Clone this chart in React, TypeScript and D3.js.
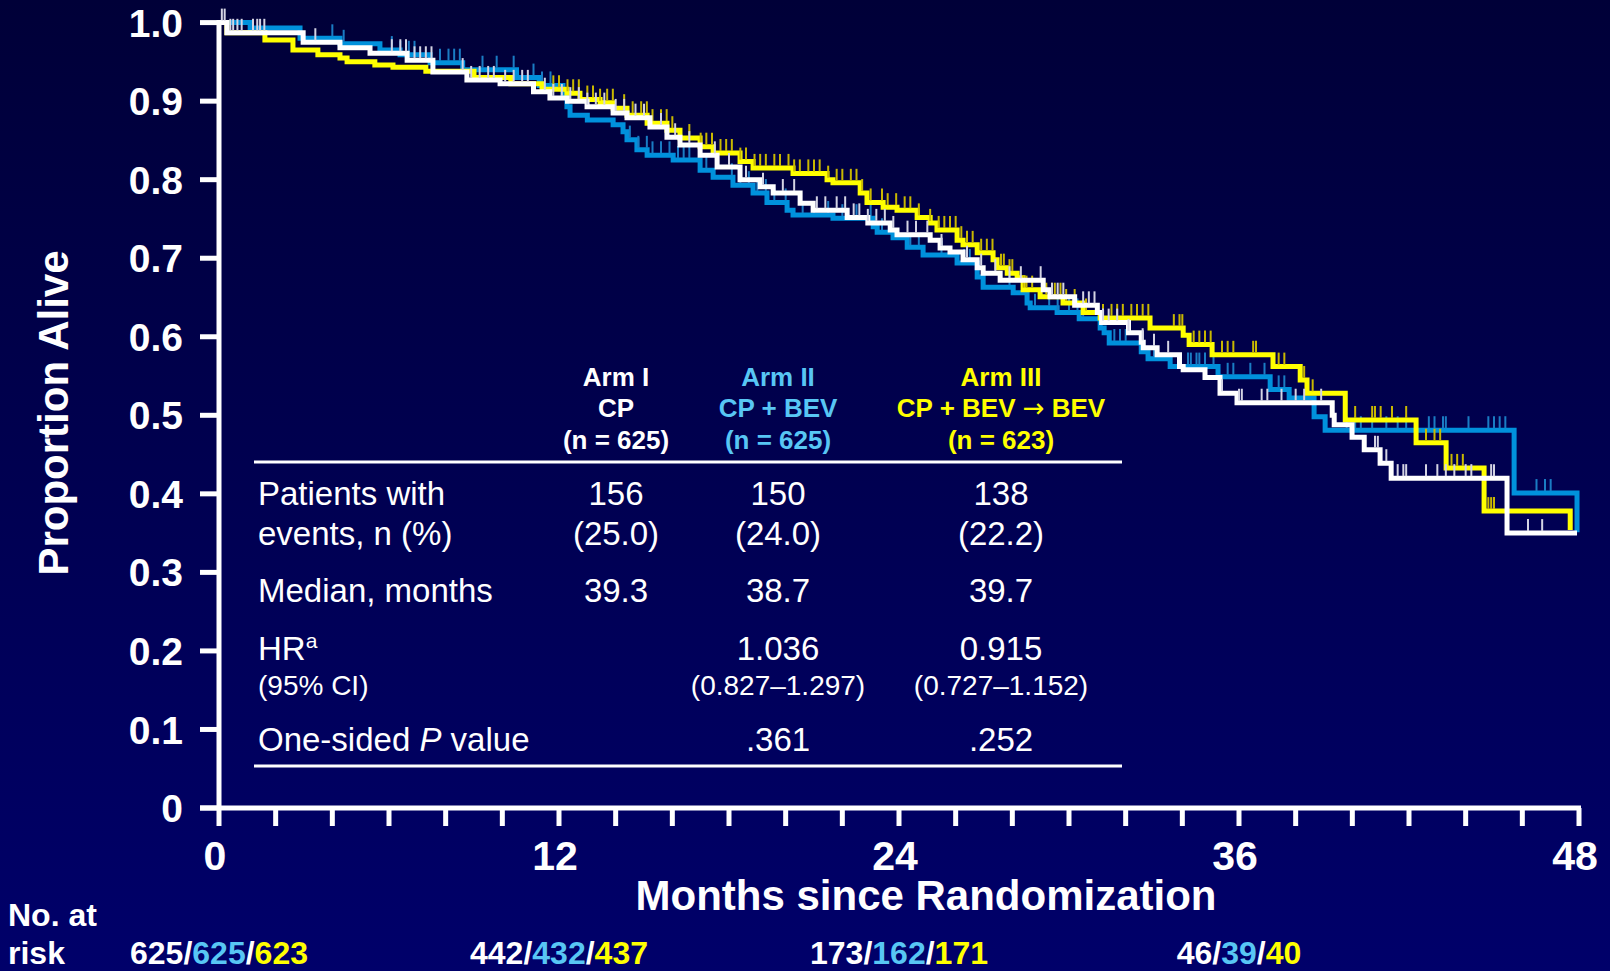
import React, { useEffect } from 'react';
import * as d3 from 'd3';

// ---- data ----
const monthTicks = [0, 12, 24, 36, 48];
const propTicks = [0, 0.1, 0.2, 0.3, 0.4, 0.5, 0.6, 0.7, 0.8, 0.9, 1.0];
const propLabels = ['0', '0.1', '0.2', '0.3', '0.4', '0.5', '0.6', '0.7', '0.8', '0.9', '1.0'];

// [month, proportion alive] at each step
const armI: [number, number][] = [
  [0, 1], [0.28, 0.987], [2.97, 0.975], [4.27, 0.968], [5.33, 0.961], [6.64, 0.952], [7.55, 0.937],
  [8.75, 0.927], [9.92, 0.922], [11.1, 0.912], [11.68, 0.904], [12.3, 0.9], [12.99, 0.893],
  [13.91, 0.885], [14.4, 0.879], [15.21, 0.867], [15.81, 0.854], [16.27, 0.844], [16.98, 0.831],
  [17.58, 0.816], [18.39, 0.8], [19.1, 0.791], [19.56, 0.783], [20.51, 0.77], [20.97, 0.761],
  [22.17, 0.752], [22.9, 0.745], [23.69, 0.736], [23.93, 0.73], [25.1, 0.723], [25.45, 0.713],
  [25.8, 0.708], [26.26, 0.698], [26.76, 0.688], [26.97, 0.681], [27.57, 0.672], [29.09, 0.66],
  [29.33, 0.651], [30.2, 0.64], [31.0, 0.631], [31.15, 0.618], [32.1, 0.605], [32.55, 0.593],
  [32.62, 0.586], [33.11, 0.577], [33.9, 0.562], [34.03, 0.558], [34.8, 0.548], [35.33, 0.528],
  [35.93, 0.516], [39.29, 0.5], [39.36, 0.488], [39.99, 0.472], [40.42, 0.456], [40.98, 0.439],
  [41.37, 0.42], [45.46, 0.35], [47.93, 0.35],
];
const armII: [number, number][] = [
  [0, 1], [1.1, 0.993], [2.86, 0.98], [4.27, 0.973], [5.68, 0.965], [6.39, 0.959], [7.45, 0.949],
  [8.6, 0.94], [10.5, 0.93], [11.3, 0.92], [12.14, 0.905], [12.28, 0.893], [12.39, 0.882],
  [13.0, 0.876], [13.91, 0.87], [14.26, 0.861], [14.4, 0.851], [14.75, 0.838], [15.11, 0.831],
  [16.03, 0.825], [16.98, 0.812], [17.44, 0.803], [18.14, 0.793], [18.85, 0.783], [19.34, 0.771],
  [20.05, 0.761], [20.26, 0.755], [21.67, 0.751], [23.09, 0.74], [23.23, 0.733], [23.79, 0.726],
  [24.29, 0.714], [24.85, 0.704], [26.05, 0.694], [26.76, 0.676], [26.97, 0.663], [28.03, 0.656],
  [28.52, 0.643], [28.63, 0.637], [29.58, 0.631], [30.36, 0.623], [31.1, 0.611], [31.24, 0.605],
  [31.42, 0.592], [32.55, 0.581], [32.79, 0.572], [33.57, 0.562], [35.26, 0.549], [37.1, 0.533],
  [37.77, 0.522], [38.65, 0.498], [39.04, 0.481], [45.71, 0.401], [47.93, 0.351],
];
const armIII: [number, number][] = [
  [0, 1], [0.28, 0.987], [1.62, 0.978], [2.61, 0.965], [3.49, 0.959], [4.27, 0.955], [4.52, 0.95],
  [5.5, 0.946], [6.14, 0.943], [7.3, 0.938], [9.0, 0.93], [10.3, 0.922], [11.4, 0.915],
  [12.28, 0.91], [12.74, 0.902], [13.45, 0.898], [13.91, 0.891], [14.4, 0.882], [15.11, 0.872],
  [15.81, 0.863], [16.27, 0.853], [16.98, 0.842], [17.44, 0.834], [18.39, 0.823], [18.85, 0.815],
  [20.26, 0.808], [21.46, 0.8], [21.67, 0.796], [22.63, 0.783], [22.87, 0.771], [23.44, 0.765],
  [23.93, 0.761], [24.64, 0.752], [25.1, 0.745], [25.34, 0.736], [26.05, 0.723], [26.26, 0.717],
  [26.76, 0.707], [27.32, 0.698], [27.46, 0.688], [27.82, 0.681], [28.17, 0.675], [28.38, 0.66],
  [28.98, 0.651], [29.79, 0.643], [30.5, 0.631], [31.1, 0.624], [32.86, 0.611], [34.03, 0.602],
  [34.24, 0.59], [35.05, 0.577], [37.2, 0.562], [38.16, 0.545], [38.4, 0.528], [39.75, 0.494],
  [42.25, 0.465], [43.31, 0.433], [44.65, 0.378], [47.69, 0.354],
];

// censored observations (months)
const censorI = [
  0.1, 0.2, 0.4, 0.5, 0.65, 0.8, 1.2, 1.35, 1.45, 1.6, 3.4, 6.1, 6.4, 6.6, 6.9, 7.1, 7.3, 7.5, 8.6, 8.9,
  9.2, 9.5, 9.7, 10.1, 10.4, 10.7, 10.9, 11.5, 11.8, 12.1, 12.4, 12.7, 13.0, 13.3, 13.6, 14.0, 14.3,
  14.7, 15.0, 15.6, 16.1, 16.6, 17.5, 18.0, 18.6, 19.2, 19.9, 20.3, 21.1, 21.4, 21.8, 22.1, 22.4, 22.6,
  22.9, 23.2, 23.5, 23.8, 24.3, 24.6, 25.0, 25.5, 26.4, 26.9, 27.4, 27.9, 28.3, 29.0, 29.4, 29.6, 29.8,
  30.5, 30.7, 30.9, 31.2, 31.4, 31.7, 32.1, 32.6, 33.0, 33.5, 35.4, 36.0, 36.1, 36.8, 37.0, 37.5, 38.0,
  38.3, 38.9, 40.8, 40.9, 41.2, 41.6, 41.8, 41.9, 42.6, 43.0, 43.3, 43.6, 44.0, 44.2, 44.9, 45.0, 46.2,
  46.7,
];
const censorII = [
  4.0, 4.4, 6.1, 6.4, 6.7, 6.9, 7.8, 8.1, 8.3, 8.5, 9.3, 9.8, 10.4, 11.1, 11.4, 11.7, 14.5, 14.8, 15.1,
  15.3, 15.6, 15.9, 16.2, 16.4, 16.6, 17.2, 18.1, 18.4, 18.7, 19.0, 19.3, 19.6, 20.0, 20.6, 21.0, 21.5,
  22.0, 22.5, 23.0, 23.4, 24.4, 24.7, 25.5, 26.3, 26.5, 27.9, 28.8, 29.3, 29.6, 30.0, 30.3, 30.5, 31.6,
  31.8, 32.0, 33.0, 34.2, 34.3, 34.5, 34.6, 34.8, 35.1, 35.6, 35.8, 36.4, 36.9, 37.4, 37.6, 39.8, 40.1,
  40.3, 40.7, 41.2, 41.6, 41.9, 42.7, 42.9, 43.2, 43.3, 44.1, 44.8, 45.0, 45.2, 45.4, 46.5, 46.8, 47.0,
];
const censorIII = [
  11.8, 12.0, 12.3, 12.5, 12.7, 13.0, 13.2, 13.45, 13.7, 13.9, 14.3, 14.6, 14.9, 15.1, 15.3, 15.6, 15.8,
  16.0, 16.6, 17.0, 17.2, 17.4, 17.7, 17.9, 18.1, 18.4, 18.6, 18.9, 19.1, 19.3, 19.6, 19.8, 20.1, 20.3,
  20.5, 20.8, 21.0, 21.2, 21.5, 21.8, 22.0, 22.3, 22.5, 22.7, 23.0, 23.4, 23.6, 23.9, 24.2, 24.4, 24.7,
  25.1, 25.4, 25.6, 25.8, 26.0, 26.2, 26.4, 26.6, 26.9, 27.1, 27.3, 27.6, 27.7, 27.9, 28.0, 28.4, 28.5,
  28.7, 29.2, 29.4, 29.5, 29.7, 29.9, 30.2, 30.6, 31.2, 31.5, 31.7, 31.9, 32.2, 32.4, 32.6, 32.8, 33.7,
  33.9, 34.0, 34.4, 34.6, 34.8, 35.0, 35.4, 35.6, 35.8, 36.5, 36.6, 37.4, 37.6, 38.3, 38.6, 40.1, 40.7,
  40.8, 41.0, 41.4, 41.9, 42.6, 42.9, 43.1, 43.5, 43.7, 43.9, 44.8, 44.9, 45.0,
];

const riskMonths = [0, 12, 24, 36];
const riskI = [625, 442, 173, 46];
const riskII = [625, 432, 162, 39];
const riskIII = [623, 437, 171, 40];

const WHITE = '#ffffff';
const BLUE_LINE = '#0091dc';
const BLUE_TEXT = '#58c6f4';
const YELLOW = '#ffff00';
const FONT = 'Liberation Sans, Arial, Helvetica, sans-serif';

const x = d3.scaleLinear().domain([0, 48]).range([219, 1579]);
const y = d3.scaleLinear().domain([0, 1]).range([808, 22.6]);

const line = d3
  .line<[number, number]>()
  .x((d) => x(d[0]))
  .y((d) => y(d[1]))
  .curve(d3.curveStepAfter);

const survAt = (steps: [number, number][], t: number) => {
  const i = d3.bisector((d: [number, number]) => d[0]).right(steps, t) - 1;
  return steps[Math.max(0, i)][1];
};

const arms = [
  { steps: armII, censor: censorII, color: BLUE_LINE, tick: '#1a7cc4' },
  { steps: armIII, censor: censorIII, color: YELLOW, tick: '#c9b800' },
  { steps: armI, censor: censorI, color: WHITE, tick: '#d4d4e4' },
];

const colCenters = [616, 778, 1001];

const App = () => {
  useEffect(() => {
    document.body.style.margin = '0';
  }, []);

  return (
    <svg width={1610} height={971} style={{ display: 'block' }} fontFamily={FONT}>
      <defs>
        <linearGradient id="bg" x1="0" y1="0" x2="0" y2="1">
          <stop offset="0%" stopColor="#000038" />
          <stop offset="100%" stopColor="#00006a" />
        </linearGradient>
      </defs>
      <rect width={1610} height={971} fill="url(#bg)" />

      {/* curves + censor marks */}
      {arms.map((a, i) => (
        <g key={i}>
          <path d={line(a.steps) || ''} fill="none" stroke={a.color} strokeWidth={5} />
          {a.censor.map((t, j) => (
            <line
              key={j}
              x1={x(t)}
              x2={x(t)}
              y1={y(survAt(a.steps, t)) - 2}
              y2={y(survAt(a.steps, t)) - 14}
              stroke={a.tick}
              strokeWidth={2}
            />
          ))}
        </g>
      ))}

      {/* axes */}
      <g stroke={WHITE} strokeWidth={5}>
        <line x1={x(0)} x2={x(0)} y1={y(1) - 2.5} y2={y(0)} />
        <line x1={200} x2={x(48) + 2} y1={y(0)} y2={y(0)} />
        {propTicks.map((p) => (
          <line key={p} x1={200} x2={x(0)} y1={y(p)} y2={y(p)} />
        ))}
        {d3.range(0, 49, 2).map((m) => (
          <line key={m} x1={x(m)} x2={x(m)} y1={y(0)} y2={y(0) + 18} />
        ))}
      </g>
      {propTicks.map((p, i) => (
        <text key={p} x={183} y={y(p)} dy="0.36em" textAnchor="end" fill={WHITE} fontSize={39} fontWeight="bold">
          {propLabels[i]}
        </text>
      ))}
      {monthTicks.map((m) => (
        <text key={m} x={x(m) - 4} y={870} textAnchor="middle" fill={WHITE} fontSize={41} fontWeight="bold">
          {m}
        </text>
      ))}
      <text x={926} y={910} textAnchor="middle" fill={WHITE} fontSize={42} fontWeight="bold">
        Months since Randomization
      </text>
      <text
        transform="translate(68,413) rotate(-90)"
        textAnchor="middle"
        fill={WHITE}
        fontSize={42}
        fontWeight="bold"
      >
        Proportion Alive
      </text>

      {/* table */}
      <g fontWeight="bold" fontSize={26} textAnchor="middle">
        <text x={colCenters[0]} y={386} fill={WHITE}>Arm I</text>
        <text x={colCenters[0]} y={417} fill={WHITE}>CP</text>
        <text x={colCenters[0]} y={449} fill={WHITE}>(n = 625)</text>
        <text x={colCenters[1]} y={386} fill={BLUE_TEXT}>Arm II</text>
        <text x={colCenters[1]} y={417} fill={BLUE_TEXT}>CP + BEV</text>
        <text x={colCenters[1]} y={449} fill={BLUE_TEXT}>(n = 625)</text>
        <text x={colCenters[2]} y={386} fill={YELLOW}>Arm III</text>
        <text x={colCenters[2]} y={417} fill={YELLOW}>
          CP + BEV <tspan fontFamily="DejaVu Sans" fontWeight="normal">→</tspan> BEV
        </text>
        <text x={colCenters[2]} y={449} fill={YELLOW}>(n = 623)</text>
      </g>
      <line x1={254} x2={1122} y1={462} y2={462} stroke={WHITE} strokeWidth={3} />
      <line x1={254} x2={1122} y1={766} y2={766} stroke={WHITE} strokeWidth={3} />
      <g fill={WHITE} fontSize={33}>
        <text x={258} y={505}>Patients with</text>
        <text x={258} y={545}>events, n (%)</text>
        <text x={258} y={602}>Median, months</text>
        <text x={258} y={660}>
          HR<tspan fontSize={21} dy={-12}>a</tspan>
        </text>
        <text x={258} y={695} fontSize={28}>(95% CI)</text>
        <text x={258} y={751}>
          One-sided <tspan fontStyle="italic">P</tspan> value
        </text>
        <g textAnchor="middle">
          <text x={colCenters[0]} y={505}>156</text>
          <text x={colCenters[0]} y={545}>(25.0)</text>
          <text x={colCenters[1]} y={505}>150</text>
          <text x={colCenters[1]} y={545}>(24.0)</text>
          <text x={colCenters[2]} y={505}>138</text>
          <text x={colCenters[2]} y={545}>(22.2)</text>
          <text x={colCenters[0]} y={602}>39.3</text>
          <text x={colCenters[1]} y={602}>38.7</text>
          <text x={colCenters[2]} y={602}>39.7</text>
          <text x={colCenters[1]} y={660}>1.036</text>
          <text x={colCenters[2]} y={660}>0.915</text>
          <text x={colCenters[1]} y={695} fontSize={28}>(0.827–1.297)</text>
          <text x={colCenters[2]} y={695} fontSize={28}>(0.727–1.152)</text>
          <text x={colCenters[1]} y={751}>.361</text>
          <text x={colCenters[2]} y={751}>.252</text>
        </g>
      </g>

      {/* numbers at risk */}
      <g fontWeight="bold" fontSize={32} fill={WHITE}>
        <text x={8} y={926}>No. at</text>
        <text x={8} y={964}>risk</text>
        {riskMonths.map((m, i) => (
          <text key={m} x={x(m)} y={964} textAnchor="middle">
            <tspan fill={WHITE}>{riskI[i]}</tspan>
            <tspan fill={WHITE}>/</tspan>
            <tspan fill={BLUE_TEXT}>{riskII[i]}</tspan>
            <tspan fill={WHITE}>/</tspan>
            <tspan fill={YELLOW}>{riskIII[i]}</tspan>
          </text>
        ))}
      </g>
    </svg>
  );
};

export default App;
